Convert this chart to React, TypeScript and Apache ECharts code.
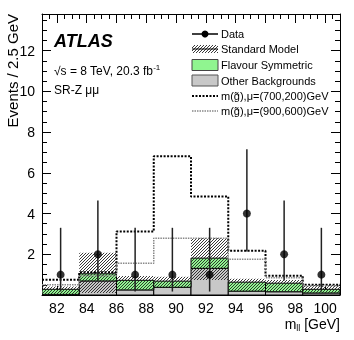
import React, { useEffect, useRef } from 'react';
import * as echarts from 'echarts';

const binEdges = [81, 83.5, 86, 88.5, 91, 93.5, 96, 98.5, 101];
const dataCounts = [1, 2, 1, 1, 1, 4, 2, 1];
const dataErrLow = [0.17, 0.71, 0.17, 0.17, 0.17, 2.14, 0.71, 0.17];
const dataErrHigh = [3.3, 4.64, 3.3, 3.3, 3.3, 7.16, 4.64, 3.3];
const otherBkg = [0.03, 0.69, 0.25, 0.38, 1.31, 0.19, 0.16, 0.1];
const flavourSym = [0.25, 0.35, 0.47, 0.3, 0.5, 0.44, 0.42, 0.18];
const smBandLow = [0.03, 0.1, 0.25, 0.38, 0.74, 0.19, 0.16, 0.1];
const smBandHigh = [0.42, 2.08, 0.93, 0.9, 2.8, 0.8, 0.74, 0.5];
const sig700 = [0.75, 1.12, 3.12, 6.81, 4.84, 2.17, 0.95, 0.5];
const sig900 = [0.5, 0.95, 1.56, 2.79, 2.79, 1.76, 0.85, 0.45];
const xTickLabels = [82, 84, 86, 88, 90, 92, 94, 96, 98, 100];
const yTickLabels = [2, 4, 6, 8, 10, 12];
const legendLabels = [
  'Data',
  'Standard Model',
  'Flavour Symmetric',
  'Other Backgrounds',
  'm(g\u0303),\u03bc=(700,200)GeV',
  'm(g\u0303),\u03bc=(900,600)GeV',
];

const FONT = 'Liberation Sans, Arial, Helvetica, sans-serif';
const GREEN = '#90f590';
const GREY = '#c8c8c8';

function makeHatch(): string {
  const c = document.createElement('canvas');
  c.width = 3;
  c.height = 3;
  const ctx = c.getContext('2d');
  if (ctx) {
    ctx.strokeStyle = '#222';
    ctx.lineWidth = 0.9;
    ctx.beginPath();
    ctx.moveTo(0, 3);
    ctx.lineTo(3, 0);
    ctx.moveTo(-1, 1);
    ctx.lineTo(1, -1);
    ctx.moveTo(2, 4);
    ctx.lineTo(4, 2);
    ctx.stroke();
  }
  return c.toDataURL();
}

export default function App() {
  const ref = useRef<HTMLDivElement>(null);
  useEffect(() => {
    if (!ref.current) return;
    const chart = echarts.init(ref.current, undefined, { renderer: 'svg' });
    const hatch = { image: makeHatch(), repeat: 'repeat', imageWidth: 3, imageHeight: 3 } as any;

    const nb = dataCounts.length;
    const centers = dataCounts.map((_, i) => (binEdges[i] + binEdges[i + 1]) / 2);
    const xMinor: number[] = [];
    for (let v = 81; v <= 101.001; v += 0.5) xMinor.push(+v.toFixed(1));
    const yMinor: number[] = [];
    for (let v = 0; v <= 13.8; v += 0.5) yMinor.push(+v.toFixed(1));
    const yMajor = [0, ...yTickLabels];

    const otherData = otherBkg.map((v, i) => [binEdges[i], binEdges[i + 1], 0, v]);
    const fsData = flavourSym.map((v, i) => [binEdges[i], binEdges[i + 1], otherBkg[i], otherBkg[i] + v]);
    const bandData = smBandLow.map((v, i) => [binEdges[i], binEdges[i + 1], v, smBandHigh[i]]);
    const errData = dataCounts.map((_, i) => [centers[i], dataErrLow[i], dataErrHigh[i]]);
    const stepData = (arr: number[]) => [
      ...arr.map((v, i) => [binEdges[i], v]),
      [binEdges[nb], arr[nb - 1]],
    ];

    const rectRender = (fill: any, stroke: string | null) => (params: any, api: any) => {
      const p0 = api.coord([api.value(0), api.value(2)]);
      const p1 = api.coord([api.value(1), api.value(3)]);
      return {
        type: 'rect',
        shape: { x: p0[0], y: p1[1], width: p1[0] - p0[0], height: p0[1] - p1[1] },
        style: { fill, stroke: stroke || 'none', lineWidth: 1 },
      };
    };

    const lineStyleAx = { color: '#000', width: 1 };
    const xAx = (pos: string, major: boolean, labels: boolean) => ({
      type: 'value',
      min: 81,
      max: 101,
      position: pos,
      axisLine: { show: major, onZero: false, lineStyle: lineStyleAx },
      axisTick: { show: true, inside: true, length: major ? 9 : 5, customValues: major ? xTickLabels : xMinor, lineStyle: lineStyleAx },
      axisLabel: labels
        ? { show: true, customValues: xTickLabels, fontSize: 14, color: '#000', margin: 6, fontFamily: FONT }
        : { show: false },
      splitLine: { show: false },
    });
    const yAx = (pos: string, major: boolean, labels: boolean) => ({
      type: 'value',
      min: 0,
      max: 13.8,
      position: pos,
      axisLine: { show: major, onZero: false, lineStyle: lineStyleAx },
      axisTick: { show: true, inside: true, length: major ? 9 : 5, customValues: major ? yMajor : yMinor, lineStyle: lineStyleAx },
      axisLabel: labels
        ? { show: true, customValues: yTickLabels, fontSize: 14, color: '#000', margin: 7, fontFamily: FONT }
        : { show: false },
      splitLine: { show: false },
    });

    const rowY = [34, 49, 65, 80.5, 96, 111];
    const sx0 = 192;
    const sx1 = 218;
    const legendGraphics: any[] = [];
    legendLabels.forEach((t, i) => {
      legendGraphics.push({
        type: 'text', x: 221, y: rowY[i],
        style: { text: t, fontSize: 11, fill: '#000', fontFamily: FONT, verticalAlign: 'middle' },
      });
    });
    legendGraphics.push(
      { type: 'line', shape: { x1: sx0, y1: rowY[0], x2: sx1, y2: rowY[0] }, style: { stroke: '#000', lineWidth: 1.5 } },
      { type: 'circle', shape: { cx: (sx0 + sx1) / 2, cy: rowY[0], r: 3.5 }, style: { fill: '#000' } },
      { type: 'rect', shape: { x: sx0, y: rowY[1] - 4, width: sx1 - sx0, height: 8 }, style: { fill: hatch, stroke: 'none' } },
      { type: 'line', shape: { x1: sx0, y1: rowY[1], x2: sx1, y2: rowY[1] }, style: { stroke: '#000', lineWidth: 1 } },
      { type: 'rect', shape: { x: sx0, y: rowY[2] - 5.5, width: sx1 - sx0, height: 11 }, style: { fill: GREEN, stroke: '#444', lineWidth: 1 } },
      { type: 'rect', shape: { x: sx0, y: rowY[3] - 5.5, width: sx1 - sx0, height: 11 }, style: { fill: GREY, stroke: '#555', lineWidth: 1 } },
      { type: 'line', shape: { x1: sx0, y1: rowY[4], x2: sx1, y2: rowY[4] }, style: { stroke: '#000', lineWidth: 2, lineDash: [2, 1.5] } },
      { type: 'line', shape: { x1: sx0, y1: rowY[5], x2: sx1, y2: rowY[5] }, style: { stroke: '#888', lineWidth: 1.5, lineDash: [1.5, 1] } },
    );

    const option: any = {
      animation: false,
      textStyle: { fontFamily: FONT },
      grid: { left: 42, right: 14, top: 14, bottom: 45, containLabel: false },
      xAxis: [xAx('bottom', true, true), xAx('bottom', false, false), xAx('top', true, false), xAx('top', false, false)],
      yAxis: [yAx('left', true, true), yAx('left', false, false), yAx('right', true, false), yAx('right', false, false)],
      graphic: [
        {
          type: 'text', x: 54, y: 41,
          style: { text: 'ATLAS', fontSize: 18, fontWeight: 'bold', fontStyle: 'italic', fill: '#000', fontFamily: FONT, verticalAlign: 'middle' },
        },
        {
          type: 'text', x: 54, y: 71,
          style: {
            text: '{a|\u221as = 8 TeV, 20.3 fb}{b|-1}',
            fill: '#000',
            verticalAlign: 'middle',
            rich: {
              a: { fontSize: 12, fontFamily: FONT, fill: '#000' },
              b: { fontSize: 8, fontFamily: FONT, fill: '#000', padding: [0, 0, 7, 0] },
            },
          },
        },
        {
          type: 'text', x: 54, y: 90,
          style: { text: 'SR-Z \u03bc\u03bc', fontSize: 12, fill: '#000', fontFamily: FONT, verticalAlign: 'middle' },
        },
        {
          type: 'text', x: 12, y: 14, rotation: Math.PI / 2,
          style: { text: 'Events / 2.5 GeV', fontSize: 15, fill: '#000', fontFamily: FONT, align: 'right', verticalAlign: 'middle' },
        },
        {
          type: 'text', x: 340, y: 324,
          style: {
            text: '{m|m}{s|ll}{m| [GeV]}',
            align: 'right',
            verticalAlign: 'middle',
            rich: {
              m: { fontSize: 14, fontFamily: FONT, fill: '#000' },
              s: { fontSize: 9, fontFamily: FONT, fill: '#000', padding: [8, 0, 0, 0] },
            },
          },
        },
        ...legendGraphics,
      ],
      series: [
        { type: 'custom', name: 'Other Backgrounds', renderItem: rectRender(GREY, '#000'), data: otherData, z: 2, clip: true },
        { type: 'custom', name: 'Flavour Symmetric', renderItem: rectRender(GREEN, '#000'), data: fsData, z: 3, clip: true },
        { type: 'custom', name: 'Standard Model', renderItem: rectRender(hatch, null), data: bandData, z: 4, clip: true },
        {
          type: 'line', name: 'sig700', data: stepData(sig700), step: 'end', showSymbol: false, z: 5,
          lineStyle: { color: '#000', width: 2, type: [2, 1.5] },
        },
        {
          type: 'line', name: 'sig900', data: stepData(sig900), step: 'end', showSymbol: false, z: 5,
          lineStyle: { color: '#888', width: 1.5, type: [1.5, 1] },
        },
        {
          type: 'custom', name: 'errors', z: 6,
          renderItem: (params: any, api: any) => {
            const a = api.coord([api.value(0), api.value(1)]);
            const b = api.coord([api.value(0), api.value(2)]);
            return { type: 'line', shape: { x1: a[0], y1: a[1], x2: b[0], y2: b[1] }, style: { stroke: '#222', lineWidth: 1.5 } };
          },
          data: errData,
        },
        {
          type: 'scatter', name: 'Data', z: 7, symbol: 'circle', symbolSize: 8,
          itemStyle: { color: '#000' },
          data: dataCounts.map((v, i) => [centers[i], v]),
        },
      ],
    };
    chart.setOption(option);
    return () => chart.dispose();
  }, []);
  return (
    <div style={{ position: 'fixed', left: 0, top: 0 }}>
      <div ref={ref} style={{ width: 354, height: 340 }} />
    </div>
  );
}
